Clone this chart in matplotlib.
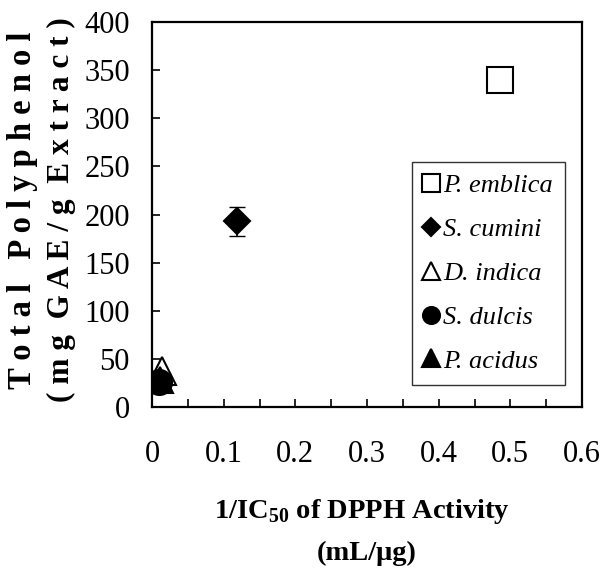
import matplotlib
matplotlib.use("Agg")
import matplotlib.pyplot as plt
from matplotlib.lines import Line2D

plt.rcParams["font.family"] = ["Liberation Serif", "DejaVu Serif"]
plt.rcParams["mathtext.fontset"] = "custom"
plt.rcParams["mathtext.rm"] = "Liberation Serif"
plt.rcParams["mathtext.bf"] = "Liberation Serif:bold"

species = ["P. emblica", "S. cumini", "D. indica", "S. dulcis", "P. acidus"]
inv_ic50 = [0.486, 0.118, 0.014, 0.010, 0.011]
polyphenol = [340, 193, 37, 26, 28]
err = [0, 15, 0, 0, 0]

markers = ["s", "D", "^", "o", "^"]
faces = ["white", "black", "white", "black", "black"]
sizes = [18.5, 13, 20, 18, 19]

fig = plt.figure(figsize=(6.01, 5.77), dpi=100)
ax = fig.add_axes([152 / 601, 1 - 407 / 577, 430 / 601, 385 / 577])

handles = []
for i, name in enumerate(species):
    if err[i]:
        ax.errorbar(inv_ic50[i], polyphenol[i], yerr=err[i], fmt="none",
                    ecolor="black", elinewidth=1.2, capsize=6, zorder=2)
    ax.plot(inv_ic50[i], polyphenol[i], ls="none", marker=markers[i],
            ms=sizes[i], mfc=faces[i], mec="black", mew=1.5, zorder=3 + i)
    handles.append(Line2D([], [], ls="none", marker=markers[i],
                          ms=sizes[i] * 0.68, mfc=faces[i], mec="black",
                          mew=1.5, label=name))

ax.set_xlim(0, 0.6)
ax.set_ylim(0, 400)
ax.set_xticks([i * 0.05 for i in range(13)])
ax.set_xticklabels(["0" if i == 0 else (f"{i / 20:.1f}" if i % 2 == 0 else "")
                    for i in range(13)])
ax.set_yticks(range(0, 401, 50))
ax.tick_params(direction="in", length=6, width=1.2, labelsize=22)
ax.tick_params(axis="x", pad=24)
ax.tick_params(axis="y", pad=16)
for sp in ax.spines.values():
    sp.set_linewidth(1.6)

leg = ax.legend(handles=handles, loc="upper right",
                bbox_to_anchor=(0.96, 0.636),
                prop={"style": "italic", "size": 19}, frameon=True,
                fancybox=False, edgecolor="black", handlelength=0.6,
                handletextpad=0.15, labelspacing=0.77, borderpad=0.45,
                borderaxespad=0)
leg.get_frame().set_linewidth(1.0)

fig.text(362 / 601, 1 - 512 / 577, r"1/IC$_{\mathbf{50}}$ of DPPH Activity",
         ha="center", va="center", fontsize=20.5, fontweight="bold")
fig.text(367 / 601, 1 - 553 / 577, "(mL/\u03bcg)",
         ha="center", va="center", fontsize=20.5, fontweight="bold")
fig.text(23 / 601, 1 - 210 / 577, "T o t a l   P o l y p h e n o l",
         ha="center", va="center", rotation=90, fontsize=23.5, fontweight="bold")
fig.text(61 / 601, 1 - 210 / 577, "( m g  G A E / g  E x t r a c t )",
         ha="center", va="center", rotation=90, fontsize=22.5, fontweight="bold")

fig.savefig("out.png", dpi=100)
